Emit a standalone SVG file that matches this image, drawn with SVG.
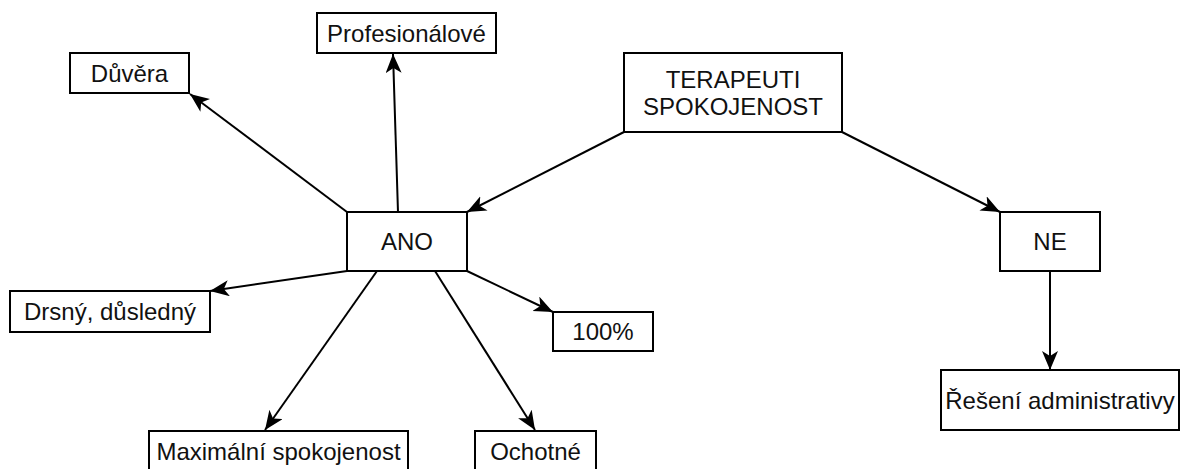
<svg xmlns="http://www.w3.org/2000/svg" width="1181" height="469" viewBox="0 0 1181 469">
<style>
.box{fill:#fff;stroke:#000;stroke-width:2}
.t{font-family:"Liberation Sans",Arial,sans-serif;font-size:24px;fill:#111;text-anchor:middle}
.c{stroke:#000;stroke-width:2;fill:none;marker-end:url(#arr)}
</style>
<defs>
<marker id="arr" markerUnits="userSpaceOnUse" markerWidth="22" markerHeight="18" refX="19" refY="8" orient="auto">
<path d="M0,0 L19,8 L0,16 L5,8 Z" fill="#000"/>
</marker>
</defs>
<g id="connectors">
<line class="c" x1="398" y1="212" x2="393" y2="54"/>
<line class="c" x1="347" y1="212" x2="190" y2="94"/>
<line class="c" x1="624" y1="132" x2="467" y2="212"/>
<line class="c" x1="842" y1="132" x2="1000" y2="212"/>
<line class="c" x1="1050" y1="271" x2="1050" y2="370"/>
<line class="c" x1="347" y1="271" x2="210" y2="291"/>
<line class="c" x1="467" y1="271" x2="553" y2="312"/>
<line class="c" x1="377" y1="271" x2="265" y2="430"/>
<line class="c" x1="435" y1="271" x2="535" y2="430"/>
</g>
<g id="profesionalove"><rect class="box" x="317" y="13" width="179" height="40"/><text class="t" x="406.5" y="41.5">Profesionálové</text></g>
<g id="duvera"><rect class="box" x="70" y="53" width="119" height="40"/><text class="t" x="129.5" y="81.5">Důvěra</text></g>
<g id="terapeuti"><rect class="box" x="624" y="53" width="218" height="79"/><text class="t" x="733" y="88">TERAPEUTI</text><text class="t" x="733" y="115">SPOKOJENOST</text></g>
<g id="ano"><rect class="box" x="347" y="212" width="120" height="59"/><text class="t" x="407" y="250">ANO</text></g>
<g id="ne"><rect class="box" x="1000" y="212" width="100" height="59"/><text class="t" x="1050" y="250">NE</text></g>
<g id="drsny"><rect class="box" x="10" y="291" width="200" height="41"/><text class="t" x="110" y="320">Drsný, důsledný</text></g>
<g id="sto"><rect class="box" x="553" y="312" width="100" height="39"/><text class="t" x="603" y="340">100%</text></g>
<g id="maximalni"><rect class="box" x="149" y="431" width="259" height="40"/><text class="t" x="278.5" y="459.5">Maximální spokojenost</text></g>
<g id="ochotne"><rect class="box" x="475" y="431" width="121" height="40"/><text class="t" x="535.5" y="459.5">Ochotné</text></g>
<g id="reseni"><rect class="box" x="941" y="370" width="238" height="60"/><text class="t" x="1060" y="408.5">Řešení administrativy</text></g>
</svg>
